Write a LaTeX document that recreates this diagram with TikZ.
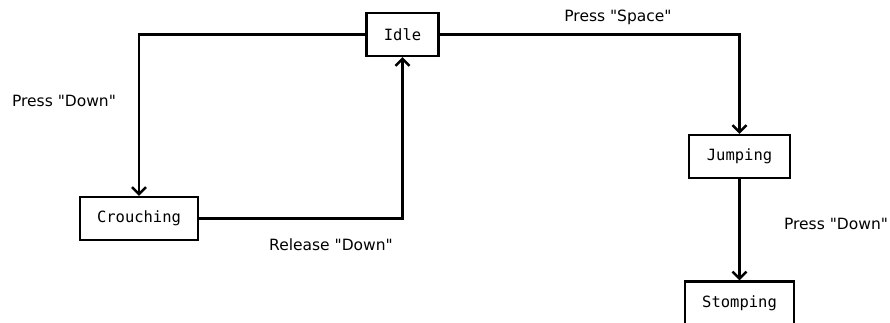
\documentclass[tikz,border=0pt]{standalone}
\usepackage{fontspec}
\setmainfont{DejaVu Sans}[Ligatures=TeXOff]
\setmonofont{DejaVu Sans Mono}
\usetikzlibrary{arrows.meta}
\tikzset{
  state/.style={draw, line width=2.4pt, fill=white, font=\fontsize{15.5}{18}\selectfont\ttfamily, inner sep=0pt, minimum height=43pt},
  trans/.style={line width=2.4pt, -{Straight Barb[length=7pt,width=14pt,line width=2.4pt]}},
  lbl/.style={font=\fontsize{15.5}{18}\selectfont, inner sep=0pt}
}
\begin{document}
\begin{tikzpicture}[x=1pt,y=-1pt]
\clip (0,0) rectangle (890,322);
\useasboundingbox (0,0) rectangle (890,322);
\node[state, minimum width=72pt] (idle) at (402.5,34.5) {Idle};
\node[state, minimum width=118pt] (crouch) at (139,218.5) {Crouching};
\node[state, minimum width=101pt] (jump) at (739.5,156.5) {Jumping};
\node[state, minimum width=109pt] (stomp) at (739.5,303) {Stomping};
\draw[trans] (idle.west) -| (crouch.north);
\draw[trans] (crouch.east) -| (idle.south);
\draw[trans] (idle.east) -| (jump.north);
\draw[trans] (jump.south) -- (stomp.north);
\node[lbl] (l1) at (64,101) {Press "Down"};
\node[lbl] (l2) at (331,245) {Release "Down"};
\node[lbl] (l3) at (618,17) {Press "Space"};
\node[lbl] (l4) at (836,224) {Press "Down"};
\end{tikzpicture}
\end{document}
